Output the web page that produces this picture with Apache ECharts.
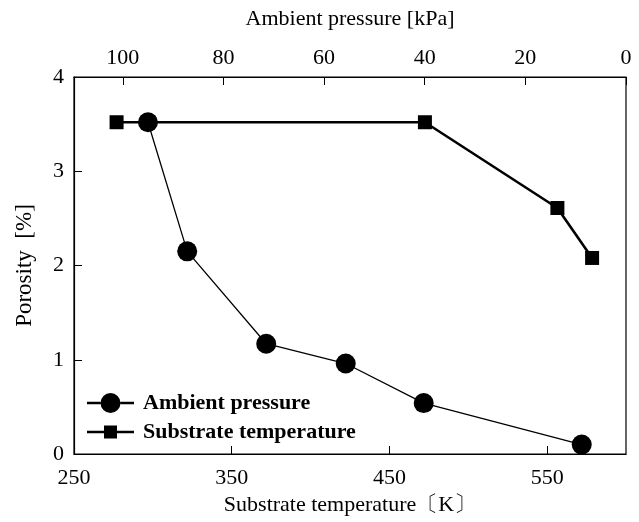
<!DOCTYPE html>
<html>
<head>
<meta charset="utf-8">
<script src="https://cdn.jsdelivr.net/npm/echarts@6/dist/echarts.min.js"></script>
<style>
  html, body { margin: 0; padding: 0; background: #fff; }
  #chart { width: 639px; height: 522px; }
</style>
</head>
<body>
<div id="chart"></div>
<script>
// porosity vs ambient pressure (top axis, kPa)
const pressureKPa = [95, 87.2, 71.5, 55.7, 40.2, 8.8]
const pressurePorosity = [3.52, 2.15, 1.17, 0.96, 0.54, 0.1]

// porosity vs substrate temperature (bottom axis, K)
const temperatureK = [277, 472.5, 556.5, 578.5]
const temperaturePorosity = [3.52, 3.52, 2.61, 2.08]

const seriesNames = ['Ambient pressure', 'Substrate temperature']
const serif = "'Liberation Serif', 'Times New Roman', serif"

const zip = (xs, ys) => xs.map((x, i) => [x, ys[i]])

// legend icons: line with marker in the middle
const circleIcon = 'path://M0 8.75h13.5v2.5H0zM33.5 8.75H47v2.5H33.5zM13.5 10a10 10 0 1 0 20 0a10 10 0 1 0 -20 0z'
const squareIcon = 'path://M0 5.25h17v2.5H0zM30 5.25h17v2.5H30zM17 0h13v13H17z'

const chart = echarts.init(document.getElementById('chart'))

const axisText = { color: '#000', fontFamily: serif, fontSize: 22 }
const tick = { show: true, inside: true, length: 8, lineStyle: { color: '#000', width: 1 } }
const line = { show: true, onZero: false, lineStyle: { color: '#000', width: 1.2 } }

const legendText = { color: '#000', fontFamily: serif, fontSize: 22, fontWeight: 'bold', padding: [0, 0, 0, 4] }

chart.setOption({
  animation: false,
  backgroundColor: '#fff',
  grid: {
    left: 74, right: 13, top: 77, bottom: 68,
    show: true, borderColor: '#000', borderWidth: 1.2
  },
  legend: [
    {
      data: [seriesNames[0]], left: 87, top: 392, padding: 0,
      itemWidth: 47, itemHeight: 20, icon: circleIcon,
      textStyle: legendText
    },
    {
      data: [seriesNames[1]], left: 87, top: 421, padding: 0,
      itemWidth: 47, itemHeight: 13, icon: squareIcon,
      textStyle: legendText
    }
  ],
  xAxis: [
    {
      type: 'value', position: 'bottom',
      min: 250, max: 600, interval: 100,
      name: 'Substrate temperature〔K〕', nameLocation: 'middle', nameGap: 33,
      nameTextStyle: axisText,
      axisLine: line, axisTick: tick,
      axisLabel: { ...axisText, margin: 13, showMaxLabel: false },
      splitLine: { show: false }
    },
    {
      type: 'value', position: 'top', inverse: true,
      min: 0, max: 109.7, interval: 20,
      name: 'Ambient pressure [kPa]', nameLocation: 'middle', nameGap: 47,
      nameTextStyle: axisText,
      axisLine: line, axisTick: tick,
      axisLabel: { ...axisText, margin: 8, showMaxLabel: false },
      splitLine: { show: false }
    }
  ],
  yAxis: {
    type: 'value', min: 0, max: 4, interval: 1,
    name: 'Porosity  [%]', nameLocation: 'middle', nameGap: 38,
    nameTextStyle: { ...axisText, fontSize: 23 },
    axisLine: line, axisTick: tick,
    axisLabel: { ...axisText, margin: 10 },
    splitLine: { show: false }
  },
  series: [
    {
      name: seriesNames[0], type: 'line', xAxisIndex: 1,
      data: zip(pressureKPa, pressurePorosity),
      symbol: 'circle', symbolSize: 20,
      lineStyle: { color: '#000', width: 1.3 },
      itemStyle: { color: '#000' }
    },
    {
      name: seriesNames[1], type: 'line', xAxisIndex: 0,
      data: zip(temperatureK, temperaturePorosity),
      symbol: 'rect', symbolSize: 14,
      lineStyle: { color: '#000', width: 2.6 },
      itemStyle: { color: '#000' }
    }
  ]
})
</script>
</body>
</html>
